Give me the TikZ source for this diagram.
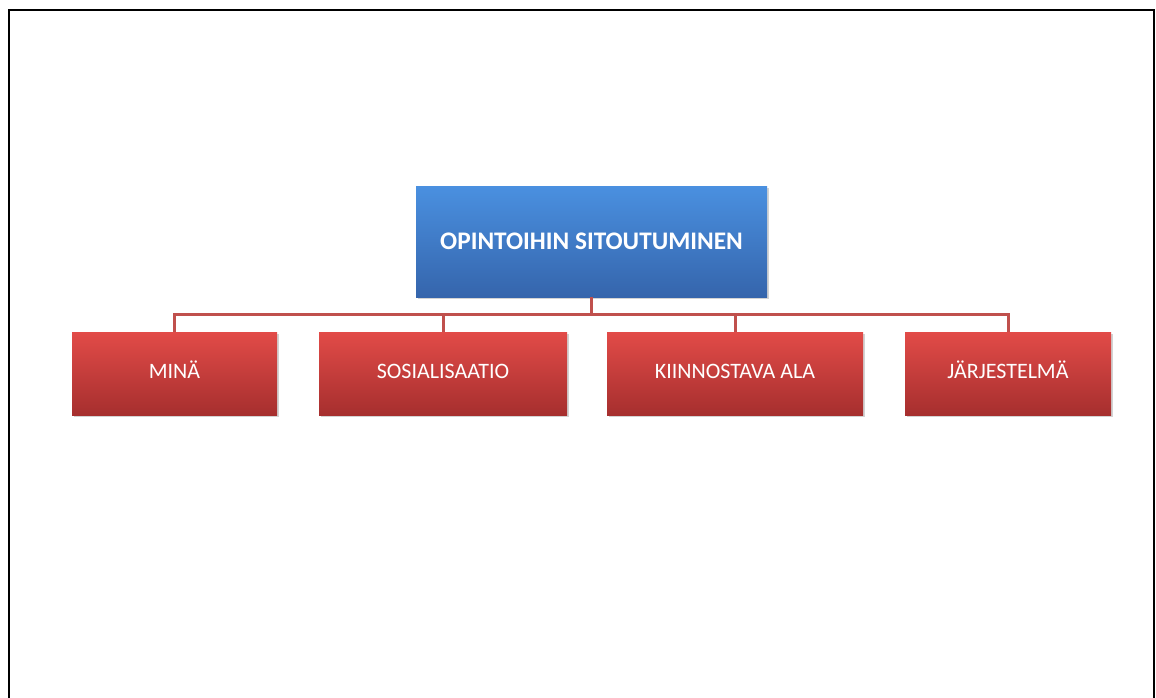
\documentclass[tikz,border=0pt]{standalone}
\usepackage{fontspec}
\setmainfont{Carlito}
\usetikzlibrary{positioning,shadows}
\definecolor{boxblue top}{HTML}{4A90E0}
\definecolor{boxblue bottom}{HTML}{3565AC}
\definecolor{boxred top}{HTML}{E24B48}
\definecolor{boxred bottom}{HTML}{A62F2E}
\definecolor{linkred}{HTML}{C0504D}
\tikzset{
    frame line/.style={line width=2.5pt,black},
    box shadow/.style={drop shadow={opacity=.35,shadow xshift=1.5pt,shadow yshift=-1.5pt}},
    main box/.style={box shadow,rectangle,top color=boxblue top,bottom color=boxblue bottom,
        minimum width=351pt,minimum height=111pt,text=white,font=\fontsize{25.3}{30}\selectfont\bfseries},
    sub box/.style={box shadow,rectangle,top color=boxred top,bottom color=boxred bottom,
        minimum height=83pt,text height=13pt,text depth=4pt,text=white,font=\fontsize{22}{26}\selectfont},
    link/.style={linkred,line width=3pt},
}
\begin{document}
\begin{tikzpicture}[x=1pt,y=-1pt]
        \useasboundingbox (0,0) rectangle (1156,698);
        \draw[frame line] (9,698) |- (1154,10) -- (1154,698);
        % top of the tree
        \node[main box] (commit) at (591.5,241.5) {OPINTOIHIN SITOUTUMINEN};
        % the four parts
        \node[sub box,minimum width=205pt] (mina) at (174.5,373.5) {MINÄ};
        \node[sub box,minimum width=248pt] (social) at (443,373.5) {SOSIALISAATIO};
        \node[sub box,minimum width=256pt] (field) at (735,373.5) {KIINNOSTAVA ALA};
        \node[sub box,minimum width=206pt] (system) at (1008,373.5) {JÄRJESTELMÄ};
        \coordinate (bus) at (591.5,314);
        \draw[link] (commit.south) -- (bus);
        \foreach \part in {mina,social,field,system}
            \draw[link] (bus) -| (\part.north);
    \end{tikzpicture}
\end{document}
